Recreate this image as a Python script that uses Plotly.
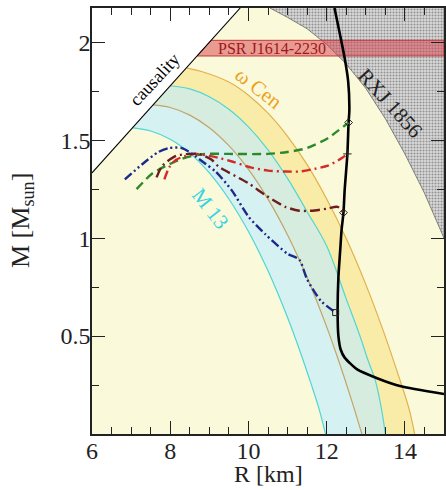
import numpy as np
import plotly.graph_objects as go

# ---- axis ranges ----
R_RANGE = [6.0, 15.0]
M_RANGE = [0.0, 2.175]

# ---- causality limit ----
causal_R = [6.0, 9.79]
causal_M = [1.333, 2.175]

# ---- PSR J1614-2230 mass band ----
psr_M = 1.97
psr_err = 0.04

# ---- RXJ 1856 excluded region boundary ----
rxj_R = [10.55, 11.0, 11.5, 12.0, 12.5, 13.0, 13.5, 14.0, 14.5, 15.0]
rxj_M = [2.175, 2.127, 2.069, 1.989, 1.889, 1.765, 1.610, 1.430, 1.230, 1.000]

# ---- omega Cen band ----
wcen_out_R = [8.43, 8.8, 9.5, 10.0, 10.5, 11.0, 11.5, 12.0, 12.5, 13.0, 13.45, 13.87, 14.1, 14.25]
wcen_out_M = [1.868, 1.851, 1.797, 1.730, 1.638, 1.520, 1.375, 1.200, 0.998, 0.764, 0.525, 0.278, 0.133, 0.0]
wcen_in_R = [7.56, 8.0, 8.5, 9.0, 9.5, 10.0, 10.5, 11.0, 11.5, 12.0, 12.3, 12.6, 12.9]
wcen_in_M = [1.680, 1.667, 1.628, 1.564, 1.472, 1.351, 1.199, 1.016, 0.799, 0.547, 0.378, 0.196, 0.0]

# ---- M13 band ----
m13_out_R = [8.0, 8.5, 9.0, 9.5, 10.0, 10.5, 11.0, 11.5, 12.0, 12.5, 12.86, 13.05, 13.24, 13.4, 13.5]
m13_out_M = [1.778, 1.762, 1.722, 1.658, 1.568, 1.451, 1.305, 1.135, 0.960, 0.690, 0.495, 0.380, 0.276, 0.130, 0.0]
m13_in_R = [7.05, 7.5, 8.0, 8.5, 9.0, 9.5, 10.0, 10.5, 11.0, 11.3, 11.6, 11.8, 11.97]
m13_in_M = [1.563, 1.547, 1.505, 1.434, 1.333, 1.200, 1.034, 0.833, 0.595, 0.433, 0.257, 0.132, 0.0]

# ---- hadronic EoS sequence ----
had_R = [12.2, 12.33, 12.46, 12.55, 12.58, 12.56, 12.53, 12.46, 12.43, 12.38, 12.35, 12.3, 12.28,
         12.3, 12.36, 12.46, 12.78, 13.29, 13.87, 15.0]
had_M = [2.175, 2.05, 1.92, 1.80, 1.65, 1.59, 1.43, 1.245, 1.13, 1.04, 0.95, 0.80, 0.62,
         0.50, 0.43, 0.39, 0.33, 0.285, 0.245, 0.204]

# ---- hybrid star branches ----
green_R = [7.14, 7.54, 7.9, 8.23, 8.56, 8.9, 9.5, 10.5, 11.0, 11.5, 12.03, 12.3, 12.56]
green_M = [1.25, 1.33, 1.37, 1.40, 1.42, 1.43, 1.43, 1.43, 1.44, 1.46, 1.51, 1.55, 1.59]

red_R = [7.85, 7.97, 8.15, 8.4, 8.66, 9.0, 9.24, 9.6, 10.08, 10.5, 10.93, 11.3, 11.6, 12.03, 12.4, 12.53]
red_M = [1.30, 1.36, 1.40, 1.42, 1.43, 1.42, 1.41, 1.39, 1.36, 1.345, 1.34, 1.34, 1.35, 1.37, 1.41, 1.43]

maroon_R = [7.65, 7.8, 8.15, 8.48, 8.73, 9.06, 9.24, 10.0, 10.43, 10.94, 11.3, 11.6, 12.0, 12.28, 12.43]
maroon_M = [1.31, 1.37, 1.42, 1.43, 1.43, 1.40, 1.365, 1.28, 1.22, 1.16, 1.14, 1.14, 1.15, 1.16, 1.13]

blue_R = [6.84, 7.3, 7.7, 7.97, 8.3, 8.56, 8.9, 9.16, 9.57, 10.0, 10.43, 11.0, 11.3, 11.5, 11.85, 12.23]
blue_M = [1.30, 1.38, 1.44, 1.46, 1.46, 1.43, 1.38, 1.34, 1.245, 1.11, 1.02, 0.92, 0.89, 0.79, 0.68, 0.62]

FONT = "Liberation Serif"

fig = go.Figure()

# region beyond causality
fig.add_trace(go.Scatter(
    x=causal_R + [R_RANGE[0]], y=causal_M + [M_RANGE[1]],
    fill="toself", fillcolor="white", line=dict(width=0), mode="lines",
    hoverinfo="skip", showlegend=False))

# omega Cen band
fig.add_trace(go.Scatter(
    x=wcen_out_R + wcen_in_R[::-1], y=wcen_out_M + wcen_in_M[::-1],
    fill="toself", fillcolor="rgb(249,236,168)", line=dict(width=0), mode="lines",
    hoverinfo="skip", showlegend=False))

# M13 band (translucent so the overlap turns greenish)
fig.add_trace(go.Scatter(
    x=m13_out_R + m13_in_R[::-1], y=m13_out_M + m13_in_M[::-1],
    fill="toself", fillcolor="rgba(192,236,255,0.62)", line=dict(width=0), mode="lines",
    hoverinfo="skip", showlegend=False))

# band edges
for xs, ys, col in [(wcen_out_R, wcen_out_M, "#e3b04a"),
                    (wcen_in_R, wcen_in_M, "#c2a468"),
                    (m13_out_R, m13_out_M, "#4fd6d6"),
                    (m13_in_R, m13_in_M, "#4fd6d6")]:
    fig.add_trace(go.Scatter(x=xs, y=ys, mode="lines",
                             line=dict(color=col, width=1.2, shape="spline"),
                             hoverinfo="skip", showlegend=False))

# RXJ 1856 excluded region
fig.add_trace(go.Scatter(
    x=rxj_R + [R_RANGE[1]], y=rxj_M + [M_RANGE[1]],
    fill="toself", fillcolor="#c4c4c4",
    fillpattern=dict(shape=".", fgcolor="#4a4a4a", bgcolor="#dadada", size=3, solidity=0.4),
    line=dict(color="#666", width=0.8), mode="lines",
    hoverinfo="skip", showlegend=False))

# PSR J1614-2230 band, starting at the causality line
psr_lo, psr_hi = psr_M - psr_err, psr_M + psr_err
r_lo = float(np.interp(psr_lo, causal_M, causal_R))
r_hi = float(np.interp(psr_hi, causal_M, causal_R))
fig.add_trace(go.Scatter(
    x=[r_lo, R_RANGE[1], R_RANGE[1], r_hi, r_lo],
    y=[psr_lo, psr_lo, psr_hi, psr_hi, psr_lo],
    fill="toself", fillcolor="rgba(214,60,72,0.5)",
    line=dict(color="#c23a3a", width=1), mode="lines",
    hoverinfo="skip", showlegend=False))

# causality line
fig.add_trace(go.Scatter(x=causal_R, y=causal_M, mode="lines",
                         line=dict(color="black", width=1.1),
                         hoverinfo="skip", showlegend=False))

# hadronic sequence
fig.add_trace(go.Scatter(x=had_R, y=had_M, mode="lines",
                         line=dict(color="black", width=2.6, shape="spline", smoothing=0.6),
                         hoverinfo="skip", showlegend=False))

# hybrid branches
branches = [
    (green_R, green_M, "#2a8a2a", "9px,5px", "diamond-open"),
    (red_R, red_M, "#d42a2a", "9px,4px,2px,4px", "cross-thin-open"),
    (maroon_R, maroon_M, "#6e1c1c", "10px,4px,2px,4px", "diamond-open"),
    (blue_R, blue_M, "#1c2a8c", "9px,3px,2px,3px,2px,3px", "square-open"),
]
for xs, ys, col, dash, sym in branches:
    fig.add_trace(go.Scatter(x=xs, y=ys, mode="lines",
                             line=dict(color=col, width=2.4, dash=dash, shape="spline", smoothing=0.7),
                             hoverinfo="skip", showlegend=False))
    fig.add_trace(go.Scatter(x=[xs[-1]], y=[ys[-1]], mode="markers",
                             marker=dict(symbol=sym, size=6, color="#222",
                                         line=dict(color="#222", width=1)),
                             hoverinfo="skip", showlegend=False))

# labels inside the plot
fig.add_annotation(x=7.62, y=1.81, text="causality", showarrow=False, textangle=-47,
                   font=dict(family=FONT, size=18, color="black"))
fig.add_annotation(x=10.25, y=1.765, text="ω Cen", showarrow=False, textangle=38,
                   font=dict(family=FONT, size=21, color="#eea21c"))
fig.add_annotation(x=9.04, y=1.15, text="M 13", showarrow=False, textangle=52,
                   font=dict(family=FONT, size=21, color="#36d2e2"))
fig.add_annotation(x=13.62, y=1.69, text="RXJ 1856", showarrow=False, textangle=48,
                   font=dict(family=FONT, size=21, color="#222"))
fig.add_annotation(x=10.6, y=psr_M, text="PSR J1614-2230", showarrow=False,
                   font=dict(family=FONT, size=16, color="#a0161c"))

# axis titles
fig.add_annotation(xref="paper", yref="paper", x=0.5, y=0, yshift=-40,
                   xanchor="center", yanchor="middle",
                   text="R [km]", showarrow=False,
                   font=dict(family=FONT, size=24, color="#222"))
fig.add_annotation(xref="paper", yref="paper", x=0, y=0.5, xshift=-70,
                   xanchor="center", yanchor="middle",
                   text="M [M<sub>sun</sub>]", showarrow=False, textangle=-90,
                   font=dict(family=FONT, size=26, color="#222"))

axis_common = dict(showline=True, linecolor="#222", linewidth=1.5, mirror="ticks",
                   ticks="inside", ticklen=13, tickwidth=1.3, tickcolor="#222",
                   showgrid=False, zeroline=False,
                   tickfont=dict(family=FONT, size=24, color="#222"))

fig.update_xaxes(range=R_RANGE, tickvals=[6, 8, 10, 12, 14], ticklabelstandoff=-6,
                 minor=dict(tickvals=[6.5, 7, 7.5, 8.5, 9, 9.5, 10.5, 11, 11.5, 12.5, 13, 13.5, 14.5],
                            ticks="inside", ticklen=7, tickcolor="#222", tickwidth=1.1),
                 **axis_common)
fig.update_yaxes(range=M_RANGE, tickvals=[0.5, 1, 1.5, 2], ticktext=["0.5", "1", "1.5", "2"],
                 ticklabelstandoff=-5,
                 minor=dict(tickvals=[0.25, 0.75, 1.25, 1.75],
                            ticks="inside", ticklen=7, tickcolor="#222", tickwidth=1.1),
                 **axis_common)

fig.update_layout(width=446, height=490, margin=dict(l=92, r=0, t=8, b=56),
                  plot_bgcolor="rgb(250,250,218)", paper_bgcolor="white",
                  showlegend=False)

fig.write_html("out.html")
